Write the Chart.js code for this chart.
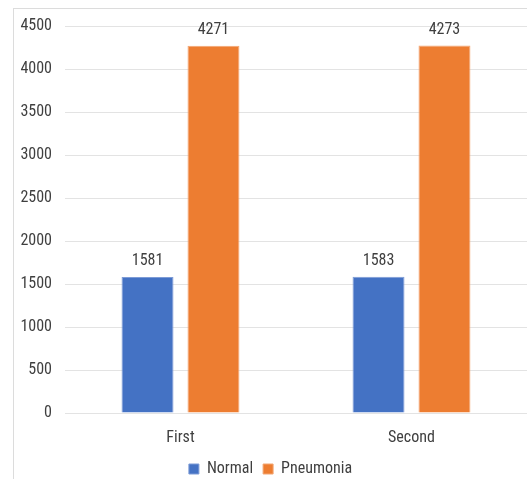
<!DOCTYPE html>
<html>
<head>
<meta charset="utf-8">
<script src="https://cdn.jsdelivr.net/npm/chart.js@4"></script>
<style>
  html, body { margin: 0; padding: 0; background: #fff; overflow: hidden; width: 527px; height: 479px; }
  #frame { position: absolute; left: 13px; top: 8px; border-left: 1px solid #dcdcdc; border-top: 1px solid #dcdcdc; }
  #box { position: relative; width: 518px; height: 478px; }
</style>
</head>
<body>
<div id="frame"><div id="box"><canvas id="c"></canvas></div></div>
<script>
// Image counts per split
const categories = ['First', 'Second'];
const seriesNames = ['Normal', 'Pneumonia'];
const normalCounts = [1581, 1583];
const pneumoniaCounts = [4271, 4273];
const yTickValues = [0, 500, 1000, 1500, 2000, 2500, 3000, 3500, 4000, 4500];

// Narrow humanist face; the stretch keyword rides in the weight slot of the font shorthand
const FAMILY = "Roboto, 'DejaVu Sans Condensed', sans-serif";
const STRETCH = 'semi-condensed';
const SIZE = 16;
const TEXT = '#3f3f3f';
const GRID = '#e3e3e3';
const axisFont = { family: FAMILY, size: SIZE, weight: STRETCH };

// Value labels above each bar
const valueLabels = {
  id: 'valueLabels',
  afterDatasetsDraw(chart) {
    const ctx = chart.ctx;
    ctx.save();
    ctx.font = STRETCH + ' ' + SIZE + 'px ' + FAMILY;
    ctx.fillStyle = TEXT;
    ctx.textAlign = 'center';
    ctx.textBaseline = 'middle';
    chart.data.datasets.forEach((ds, i) => {
      chart.getDatasetMeta(i).data.forEach((bar, j) => {
        ctx.fillText(String(ds.data[j]), bar.x, bar.y - 16);
      });
    });
    ctx.restore();
  }
};

new Chart(document.getElementById('c'), {
  type: 'bar',
  data: {
    labels: categories,
    datasets: [
      { label: seriesNames[0], data: normalCounts, backgroundColor: '#4472c4', borderColor: '#7d9bd6', borderWidth: 1 },
      { label: seriesNames[1], data: pneumoniaCounts, backgroundColor: '#ed7d31', borderColor: '#f3a673', borderWidth: 1 }
    ]
  },
  options: {
    responsive: true,
    maintainAspectRatio: false,
    animation: false,
    devicePixelRatio: 1,
    categoryPercentage: 0.571,
    barPercentage: 0.788,
    layout: { padding: { top: 17, right: 5, left: 0, bottom: 0 } },
    plugins: {
      legend: {
        position: 'bottom',
        labels: {
          boxWidth: 10, boxHeight: 10, padding: 10,
          color: TEXT,
          font: axisFont
        }
      },
      tooltip: { enabled: false }
    },
    scales: {
      x: {
        grid: { display: false, drawTicks: false },
        border: { display: true, color: GRID, width: 1 },
        ticks: { color: TEXT, font: axisFont, padding: 15 },
        afterFit(scale) { scale.height = 38; }
      },
      y: {
        min: 0, max: 4500,
        grid: { color: GRID, lineWidth: 1, drawTicks: false },
        border: { display: false },
        ticks: { color: TEXT, font: axisFont, padding: 13, callback: v => String(v) },
        afterBuildTicks(scale) { scale.ticks = yTickValues.map(v => ({ value: v })); },
        afterFit(scale) {
          scale.width = 51;
          scale.paddingTop = 0;
          scale.paddingBottom = 0;
        }
      }
    }
  },
  plugins: [valueLabels]
});
</script>
</body>
</html>
